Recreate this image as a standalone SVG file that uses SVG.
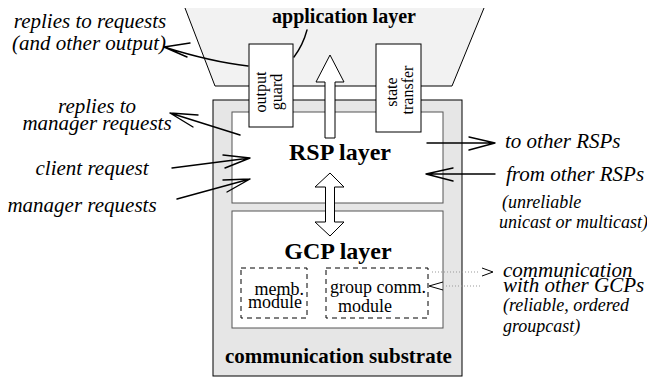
<svg xmlns="http://www.w3.org/2000/svg" width="647" height="377" viewBox="0 0 647 377">
<style>
.f{font-family:"Liberation Serif",serif;fill:#000}
.b{font-weight:bold}
.lbl{font-style:italic;font-size:21px}
.sm{font-style:italic;font-size:18px}
.box{fill:#fff;stroke:#555;stroke-width:1}
.mod{fill:none;stroke:#000;stroke-width:1;stroke-dasharray:5 4}
.in{font-size:18px}
.rot{font-size:16px}
.ar{fill:none;stroke:#000;stroke-width:1.4;stroke-linecap:round;stroke-linejoin:round}
.dot{fill:none;stroke:#999;stroke-width:1;stroke-dasharray:1 2}
.big{fill:#fff;stroke:#000;stroke-width:1}
</style>
<g id="application-layer">
<polygon points="185,8 484,8 452,86 215,86" fill="#f2f2f2" stroke="none"/>
<polyline points="185,8 215,86 452,86 484,8" fill="none" stroke="#000" stroke-width="1"/>
<text class="f b" x="344" y="23" font-size="20" text-anchor="middle">application layer</text>
</g>
<g id="communication-substrate">
<rect x="213" y="100" width="249" height="276" fill="#e6e6e6" stroke="#000" stroke-width="1"/>
<text class="f b" x="338.5" y="363" font-size="21" text-anchor="middle">communication substrate</text>
</g>
<g id="rsp-layer">
<rect class="box" x="232" y="112" width="211" height="91"/>
<text class="f b" x="340" y="160" font-size="24" text-anchor="middle">RSP layer</text>
</g>
<g id="gcp-layer">
<rect class="box" x="232" y="211" width="211" height="117"/>
<text class="f b" x="338" y="259" font-size="24" text-anchor="middle">GCP layer</text>
</g>
<g id="memb-module">
<rect class="mod" x="241" y="268" width="66" height="50"/>
<text class="f in" x="304" y="295" text-anchor="end">memb.</text>
<text class="f in" x="302" y="308" text-anchor="end">module</text>
</g>
<g id="group-comm-module">
<rect class="mod" x="326" y="268" width="102" height="50"/>
<text class="f in" x="378" y="293" text-anchor="middle">group comm.</text>
<text class="f in" x="365" y="312" text-anchor="middle">module</text>
</g>
<g id="output-guard">
<rect class="big" x="249" y="44" width="44" height="83"/>
<text class="f rot" transform="translate(266,92) rotate(-90)" text-anchor="middle">output</text>
<text class="f rot" transform="translate(282,92) rotate(-90)" text-anchor="middle">guard</text>
</g>
<g id="state-transfer">
<rect class="big" x="376" y="44" width="45" height="88"/>
<text class="f rot" transform="translate(397,92) rotate(-90)" text-anchor="middle">state</text>
<text class="f rot" transform="translate(413,90) rotate(-90)" text-anchor="middle">transfer</text>
</g>
<g id="connectors">
<polygon points="325,138 325,82 316,82 330,55 344,82 335,82 335,138" fill="#fff" stroke="#000" stroke-width="1"/>
<polygon points="325.5,187 315,187 330,173 344,187 334.5,187 334.5,222 344,222 330,236 315,222 325.5,222" fill="#fff" stroke="#000" stroke-width="1"/>
<path class="ar" d="M248,66 Q212,62 164,47 M190,43 L164,47 L187,57"/>
<path class="ar" d="M294,57 Q303,45 307,30"/>
<path class="ar" d="M240,135 L170,113 M198,115 L170,113 L193,127"/>
<path class="ar" d="M172,168 L250,158 M223,155 L250,158 L225,168"/>
<path class="ar" d="M177,199 L250,179 M223,180 L250,179 L227,192"/>
<path class="ar" d="M427,143 L495,143 M469,137 L495,143 L469,150"/>
<path class="ar" d="M495,174 L426,174 M453,168 L426,174 L453,181"/>
<path class="dot" d="M432,272 L480,272 M443,286 L480,286"/>
<path fill="none" stroke="#000" stroke-width="1" d="M482,268 L493,272 L482,276 M443,282 L429,286 L443,290"/>
</g>
<g id="labels">
<text class="f lbl" x="90" y="28" text-anchor="middle">replies to requests</text>
<text class="f lbl" x="89" y="50" text-anchor="middle">(and other output)</text>
<text class="f lbl" x="97" y="113" text-anchor="middle">replies to</text>
<text class="f lbl" x="97" y="130" text-anchor="middle">manager requests</text>
<text class="f lbl" x="92" y="175" text-anchor="middle">client request</text>
<text class="f lbl" x="82" y="212" text-anchor="middle">manager requests</text>
<text class="f lbl" x="505" y="148">to other RSPs</text>
<text class="f lbl" x="506" y="181">from other RSPs</text>
<text class="f sm" x="502" y="208">(unreliable</text>
<text class="f sm" x="499" y="228">unicast or multicast)</text>
<text class="f lbl" x="503" y="277">communication</text>
<text class="f lbl" x="503" y="292">with other GCPs</text>
<text class="f sm" x="503" y="311">(reliable, ordered</text>
<text class="f sm" x="503" y="332">groupcast)</text>
</g>
</svg>
